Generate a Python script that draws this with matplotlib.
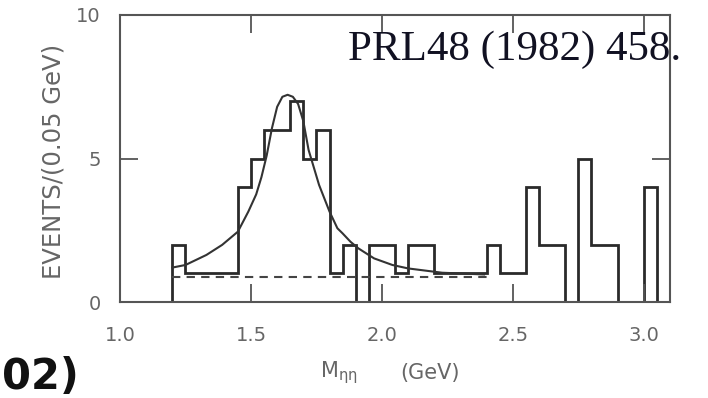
import numpy as np
import matplotlib.pyplot as plt

# histogram (0.05 GeV bins starting at 1.20 GeV)
edges = np.round(np.arange(1.20, 3.101, 0.05), 2)
counts = [2, 1, 1, 1, 1, 4, 5, 6, 6, 7, 5, 6, 1, 2, 0, 2, 2, 1, 2, 2,
          1, 1, 1, 1, 2, 1, 1, 4, 2, 2, 0, 5, 2, 2, 0, 0, 4, 0]

# fitted curve
fit_x = [1.20, 1.25, 1.33, 1.39, 1.45, 1.49, 1.52, 1.54, 1.56, 1.58, 1.60, 1.62,
         1.64, 1.66, 1.68, 1.70, 1.72, 1.76, 1.80, 1.83, 1.85, 1.88, 1.91, 1.97,
         2.04, 2.10, 2.23, 2.39]
fit_y = [1.20, 1.29, 1.64, 1.99, 2.45, 3.15, 3.75, 4.35, 5.10, 6.05, 6.80, 7.15,
         7.22, 7.15, 6.90, 6.30, 5.30, 4.08, 3.15, 2.57, 2.39, 2.10, 1.87, 1.52,
         1.29, 1.17, 1.02, 0.96]

# flat background (dashed)
bg_x = [1.20, 2.42]
bg_y = [0.86, 0.86]

fig = plt.figure(figsize=(7.08, 3.98), dpi=100)
ax = fig.add_axes([120 / 708, 1 - 302 / 398, 550 / 708, 287 / 398])

ax.stairs(counts, edges, baseline=0, color='#2a2a2a', lw=2.0)
ax.plot(fit_x, fit_y, color='#333333', lw=1.5)
ax.plot(bg_x, bg_y, color='#444444', lw=1.5, ls=(0, (4, 3)))

ax.set_xlim(1.0, 3.1)
ax.set_ylim(0, 10)
ax.set_xticks([1.0, 1.5, 2.0, 2.5, 3.0])
ax.set_xticklabels(['1.0', '1.5', '2.0', '2.5', '3.0'])
ax.set_yticks([0, 5, 10])
ax.tick_params(direction='in', length=13, width=1.3, color='#555555',
               top=True, right=True, labelsize=14, labelcolor='#666666')
ax.tick_params(axis='x', pad=17)
ax.tick_params(axis='y', pad=14)
for s in ax.spines.values():
    s.set_color('#555555')
    s.set_linewidth(1.5)

fig.text(54 / 708, 1 - 161 / 398, 'EVENTS/(0.05 GeV)', rotation=90,
         ha='center', va='center', fontsize=17.5, color='#666666')
fig.text(320 / 708, 1 - 373 / 398, r'$\mathregular{M_{\eta\eta}}$',
         ha='left', va='center', fontsize=15, color='#666666')
fig.text(400 / 708, 1 - 373 / 398, '(GeV)',
         ha='left', va='center', fontsize=15, color='#666666')

fig.text(348 / 708, 1 - 60 / 398, 'PRL48 (1982) 458.', family='Liberation Serif',
         fontsize=31, color='#111122', ha='left', va='baseline')
fig.text(2 / 708, 1 - 389 / 398, '02)', family='DejaVu Sans',
         fontweight='bold', fontsize=30, color='#111111', ha='left', va='baseline')

plt.savefig('out.png', dpi=100)
